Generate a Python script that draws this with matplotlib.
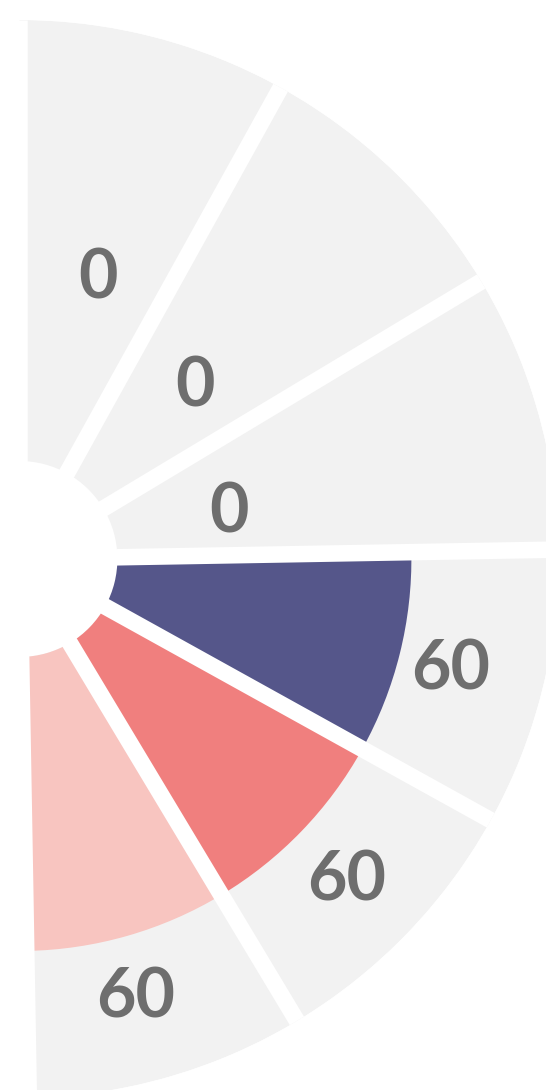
import numpy as np
import matplotlib
matplotlib.use("Agg")
import matplotlib.pyplot as plt
from matplotlib.transforms import offset_copy

# Chart data
values = [0, 0, 0, 60, 60, 60]
max_value = 90
value_labels = ["0", "0", "0", "60", "60", "60"]
bar_colors = ["#55568a", "#55568a", "#55568a", "#55568a", "#f07f7e", "#f8c5c0"]

# Layout
track_color = "#f2f2f2"
text_color = "#6e6e6e"
hole = 20            # radial units left empty in the middle
rotation = 1.0       # whole chart is turned by about one degree
gap_pt = 11.9        # white gap between sectors

# label placement (data degrees, radial units)
label_theta = [73.6, 44.1, 12.8, -14.8, -45.1, -76.0]
label_r = [60.4, 50.9, 44.0, 90.7, 93.0, 91.8]

W, H = 546, 1090
cx, cy = 19.4, H - 559     # centre of the chart in pixels
R = 539                    # outer radius in pixels

fig = plt.figure(figsize=(W / 100, H / 100), dpi=100)
ax = fig.add_axes([(cx - R) / W, (cy - R) / H, 2 * R / W, 2 * R / H], projection="polar")
ax.set_theta_offset(np.deg2rad(rotation))
ax.set_ylim(0, hole + max_value)
ax.axis("off")

# sector edges, half circle from top to bottom
n = len(values)
edges = 90 - 180 / n * np.arange(n + 1)
edges[0] = 90 - rotation
theta = np.deg2rad((edges[:-1] + edges[1:]) / 2)
width = np.deg2rad(edges[:-1] - edges[1:])

# grey tracks
ax.bar(theta, [max_value] * n, width=width, bottom=hole, color=track_color, linewidth=0)
# value bars
ax.bar(theta, values, width=width, bottom=hole, color=bar_colors, linewidth=0)

# white gaps between sectors
for e in edges:
    t = np.deg2rad(e)
    ax.plot([t, t], [0, hole + max_value], color="white", linewidth=gap_pt,
            solid_capstyle="butt")

# value labels (nudged down so the digits, not the line box, are centred)
label_tf = offset_copy(ax.transData, fig=fig, x=0, y=-5, units="dots")
for lbl, t, r in zip(value_labels, label_theta, label_r):
    ax.text(np.deg2rad(t), r, lbl, ha="center", va="center", fontsize=49,
            fontweight="bold", family=["Lato", "DejaVu Sans"], color=text_color,
            transform=label_tf)

fig.savefig("out.png", dpi=100)
